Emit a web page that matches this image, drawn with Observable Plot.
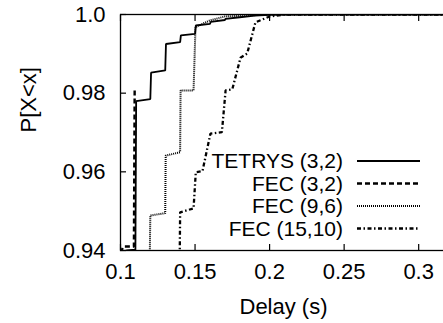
<!DOCTYPE html>
<html><head><meta charset="utf-8">
<script src="https://cdn.jsdelivr.net/npm/d3@7"></script>
<script src="https://cdn.jsdelivr.net/npm/@observablehq/plot@0.6"></script>
<style>html,body{margin:0;padding:0;background:#fff;overflow:hidden} svg{display:block}</style>
</head><body><div id="chart"></div>
<script>
const seriesNames = ["TETRYS (3,2)", "FEC (3,2)", "FEC (9,6)", "FEC (15,10)"];
const xTicks = [0.1, 0.15, 0.2, 0.25, 0.3];
const xTickLabels = ["0.1", "0.15", "0.2", "0.25", "0.3"];
const yTicks = [0.94, 0.96, 0.98, 1.0];
const yTickLabels = ["0.94", "0.96", "0.98", "1.0"];
const xLabel = "Delay (s)";
const yLabel = "P[X<x]";

const tetrysDelay = [0.1, 0.104, 0.1100, 0.1105, 0.12, 0.1205, 0.13, 0.1305, 0.14, 0.1405, 0.15, 0.1505, 0.16, 0.1605, 0.17, 0.1705, 0.18, 0.19, 0.2, 0.22, 0.33];
const tetrysP     = [0.9395, 0.9400, 0.9402, 0.978, 0.9785, 0.9852, 0.9858, 0.9925, 0.993, 0.9947, 0.9951, 0.9972, 0.9976, 0.9981, 0.9986, 0.9989, 0.9993, 0.9997, 0.9999, 1.0, 1.0];
const fec32Delay  = [0.1, 0.102, 0.109, 0.1095];
const fec32P      = [0.9395, 0.941, 0.941, 0.9807];
const fec96Delay  = [0.1, 0.1195, 0.12, 0.13, 0.1303, 0.14, 0.1403, 0.149, 0.1503, 0.16, 0.17, 0.2, 0.33];
const fec96P      = [0.93, 0.935, 0.9489, 0.9495, 0.9641, 0.965, 0.9807, 0.9807, 0.9968, 0.9985, 0.9995, 1.0, 1.0];
const fec1510Delay = [0.1, 0.1395, 0.14, 0.149, 0.1505, 0.155, 0.1603, 0.168, 0.1705, 0.175, 0.1805, 0.185, 0.1905, 0.2, 0.21, 0.33];
const fec1510P     = [0.92, 0.93, 0.9497, 0.9507, 0.9599, 0.9602, 0.9697, 0.9701, 0.9807, 0.981, 0.989, 0.9901, 0.998, 0.9995, 1.0, 1.0];

const toRows = (xs, ps) => xs.map((x, i) => ({x, y: ps[i]}));
const styles = [
  {strokeWidth: 1.8, strokeDasharray: null},
  {strokeWidth: 2.4, strokeDasharray: "5,3"},
  {strokeWidth: 2, strokeDasharray: "1,1"},
  {strokeWidth: 2.3, strokeDasharray: "4,2.5,1.5,2.5"}
];
const seriesData = [toRows(tetrysDelay, tetrysP), toRows(fec32Delay, fec32P), toRows(fec96Delay, fec96P), toRows(fec1510Delay, fec1510P)];

const FONT = "Liberation Sans, Arial, Helvetica, sans-serif";
const FS = 22;
const LFS = 21;

const chart = Plot.plot({
  width: 443, height: 323,
  marginLeft: 120, marginTop: 14, marginBottom: 73, marginRight: -5,
  style: {fontFamily: FONT, fontSize: FS + "px", background: "#fff", color: "#000", overflow: "hidden"},
  x: {domain: [0.1, 0.32], label: null},
  y: {domain: [0.94, 1.0], label: null},
  marks: [
    ...seriesData.map((rows, i) => Plot.line(rows, {x: "x", y: "y", stroke: "#000", strokeWidth: styles[i].strokeWidth, strokeDasharray: styles[i].strokeDasharray, clip: true, strokeLinejoin: "miter", strokeLinecap: "butt"})),
    Plot.frame({stroke: "#000", strokeWidth: 1.3}),
    Plot.axisX({ticks: xTicks, tickFormat: (d, i) => xTickLabels[i], tickSize: -6, tickPadding: 19, fontSize: FS, label: null, strokeWidth: 1.2}),
    Plot.axisX({anchor: "top", ticks: xTicks, tickFormat: () => "", tickSize: -6, label: null, strokeWidth: 1.2}),
    Plot.axisY({ticks: yTicks, tickFormat: (d, i) => yTickLabels[i], tickSize: -6, tickPadding: 21, fontSize: FS, label: null, strokeWidth: 1.2}),
    Plot.text([xLabel], {text: d => d, frameAnchor: "bottom", dy: 56, dx: -1, lineAnchor: "middle", fontSize: FS}),
    Plot.text([yLabel], {text: d => d, frameAnchor: "left", dx: -92, rotate: -90, lineAnchor: "middle", fontSize: FS})
  ]
});
document.getElementById("chart").appendChild(chart);

// legend
const svg = d3.select(chart);
const lg = svg.append("g").attr("font-family", FONT).attr("font-size", LFS);
const rowY = [161, 183.5, 206, 228.5];
seriesNames.forEach((name, i) => {
  lg.append("text").attr("x", 343).attr("y", rowY[i]).attr("dy", "0.35em").attr("text-anchor", "end").attr("fill", "#000").text(name);
  const l = lg.append("line").attr("x1", 357).attr("x2", 420).attr("y1", rowY[i]).attr("y2", rowY[i])
    .attr("stroke", "#000").attr("stroke-width", styles[i].strokeWidth);
  if (styles[i].strokeDasharray) l.attr("stroke-dasharray", styles[i].strokeDasharray);
});
</script>
</body></html>
